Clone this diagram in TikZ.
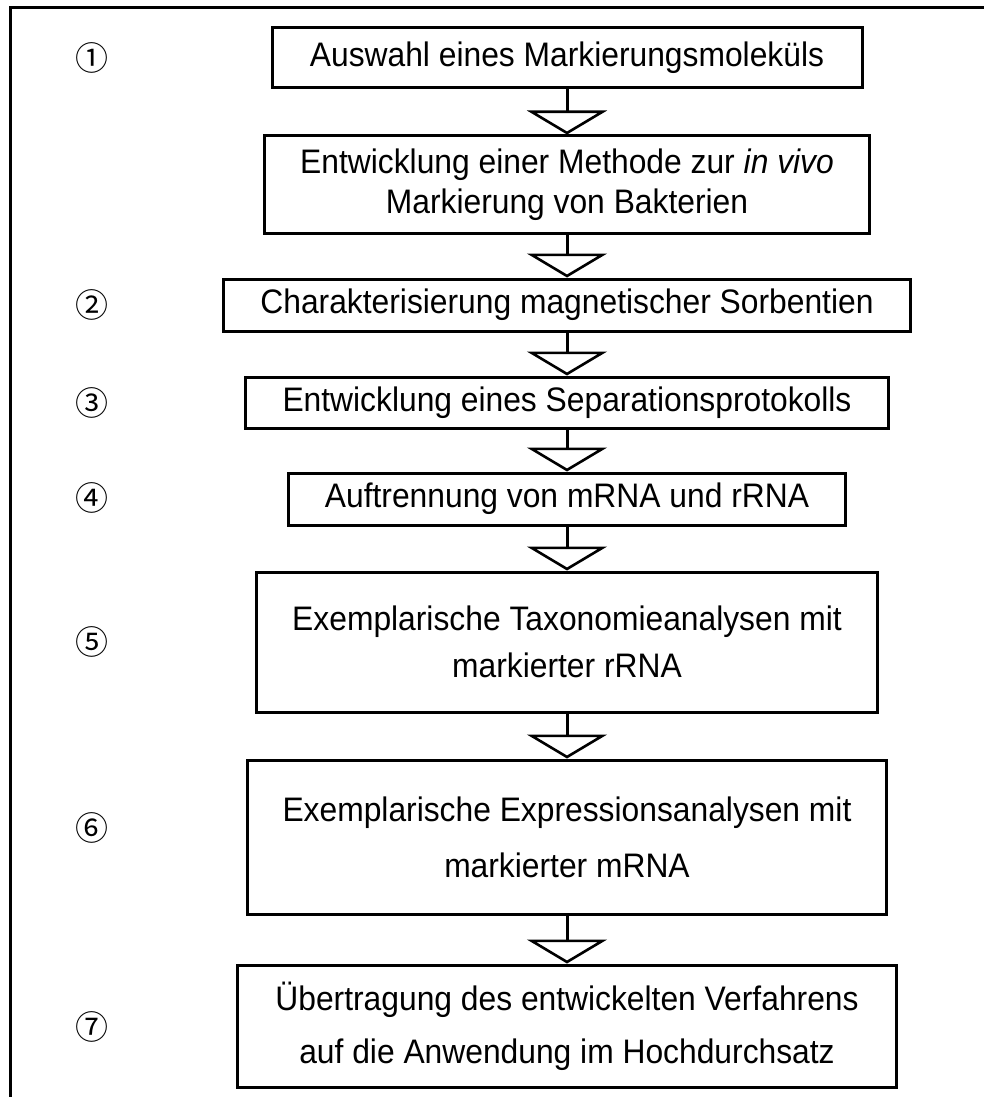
\documentclass[tikz,border=0pt]{standalone}
\usepackage{fontspec}
\setmainfont{Liberation Sans}[FakeStretch=0.935]
\newfontfamily\circfont{Noto Sans CJK JP}
\usetikzlibrary{arrows.meta}
\begin{document}
\begin{tikzpicture}[
            x=1pt, y=-1pt,
            box/.style = {draw=black, line width=3pt, align=center, inner sep=0pt,
                          font=\fontsize{34}{40}\selectfont},
            num/.style = {font=\circfont\fontsize{33}{33}\selectfont, inner sep=0pt},
            flow/.style = {line width=3pt, -{Triangle[open, width=80pt, length=24pt, line width=2.6pt]}}
          ]
          \useasboundingbox (0,0) rectangle (984,1097);
          % outer frame (cut off on the right and at the bottom)
          \draw[line width=3pt] (10,1097) -- (10,8) -- (984,8);

          \node[box, minimum width=590pt, minimum height=60pt]  (s1) at (567,58)  {Auswahl eines Markierungsmoleküls};
          \node[box, minimum width=605pt, minimum height=97pt]  (s2) at (567,184.5) {Entwicklung einer Methode zur \textit{in vivo}\\Markierung von Bakterien};
          \node[box, minimum width=687pt, minimum height=52pt]  (s3) at (567,305) {Charakterisierung magnetischer Sorbentien};
          \node[box, minimum width=643pt, minimum height=51pt]  (s4) at (567,402.5) {Entwicklung eines Separationsprotokolls};
          \node[box, minimum width=557pt, minimum height=52pt]  (s5) at (567,499) {Auftrennung von mRNA und rRNA};
          \node[box, minimum width=621pt, minimum height=140pt] (s6) at (567,642) {Exemplarische Taxonomieanalysen mit\\[7pt]markierter rRNA};
          \node[box, minimum width=639pt, minimum height=154pt] (s7) at (567,837) {Exemplarische Expressionsanalysen mit\\[16pt]markierter mRNA};
          \node[box, minimum width=659pt, minimum height=122pt] (s8) at (567,1026) {Übertragung des entwickelten Verfahrens\\[13pt]auf die Anwendung im Hochdurchsatz};

          % step numbers
          \node[num] (n1) at (92,58)   {①};
          \node[num] (n2) at (92,305)  {②};
          \node[num] (n3) at (92,403)  {③};
          \node[num] (n4) at (92,498)  {④};
          \node[num] (n5) at (92,642)  {⑤};
          \node[num] (n6) at (92,828)  {⑥};
          \node[num] (n7) at (92,1027) {⑦};

          \foreach \a/\b in {s1/s2, s2/s3, s3/s4, s4/s5, s5/s6, s6/s7, s7/s8}
            \draw[flow] (\a.south) -- (\b.north);
        \end{tikzpicture}
\end{document}
